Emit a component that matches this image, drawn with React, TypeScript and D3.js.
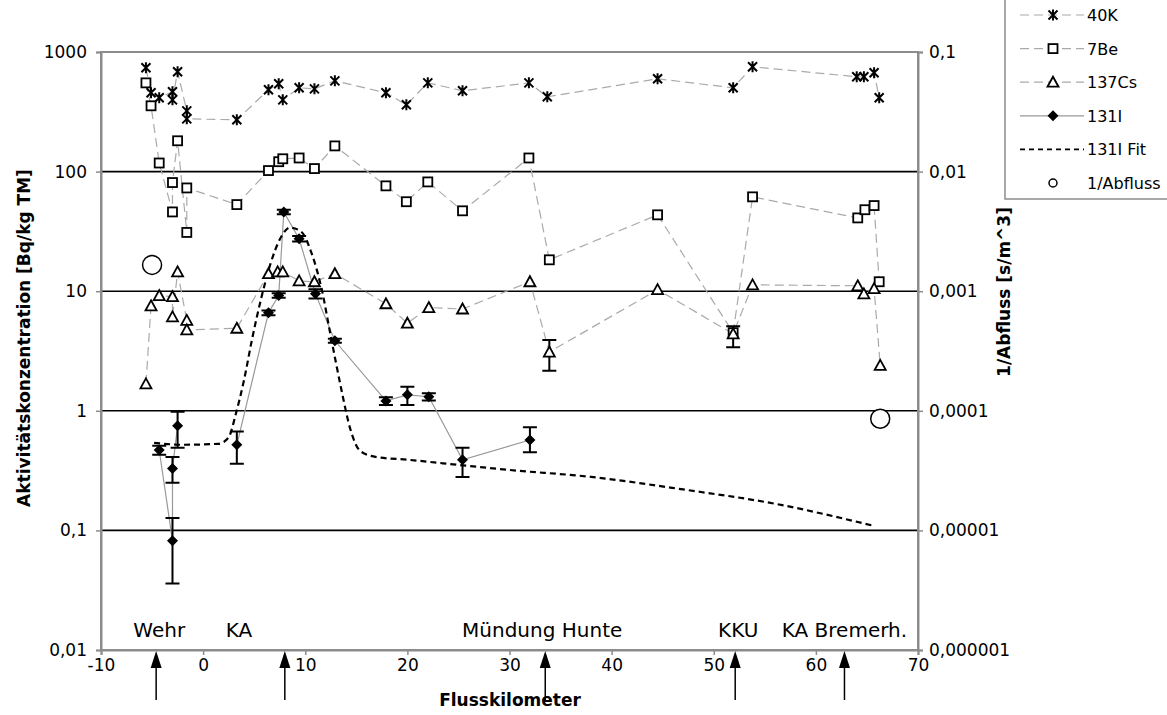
import { useEffect, useRef } from 'react'
import * as d3 from 'd3'

// [km, Bq/kg TM]
const k40: [number, number][] = [
  [-5.6, 738], [-5.1, 456], [-4.3, 414], [-3.0, 465], [-3.0, 398], [-2.5, 683], [-1.6, 322], [-1.6, 276],
  [3.3, 271], [6.4, 483], [7.4, 542], [7.8, 398], [9.4, 502], [10.9, 492], [12.9, 574], [17.9, 456],
  [19.9, 362], [22.0, 552], [25.4, 474], [31.9, 552], [33.7, 422], [44.5, 597], [51.9, 502], [53.8, 752],
  [64.0, 621], [64.7, 621], [65.7, 670], [66.2, 414],
]
const be7: [number, number][] = [
  [-5.6, 552], [-5.1, 355], [-4.3, 118], [-3.0, 46], [-3.0, 81], [-2.5, 181], [-1.6, 31], [-1.6, 73],
  [3.3, 53], [6.4, 102], [7.4, 121], [7.8, 128], [9.4, 130], [10.9, 106], [12.9, 164], [17.9, 76],
  [19.9, 56], [22.0, 82], [25.4, 47], [31.9, 130], [33.9, 18.3], [44.5, 43.5], [51.9, 4.5], [53.8, 61.5],
  [64.1, 41], [64.8, 48], [65.7, 52], [66.2, 12],
]
const cs137: [number, number][] = [
  [-5.6, 1.68], [-5.1, 7.55], [-4.3, 9.2], [-3.0, 9.0], [-3.0, 6.1], [-2.5, 14.5], [-1.6, 5.7], [-1.6, 4.75],
  [3.3, 4.9], [6.4, 14], [7.3, 14.5], [7.8, 14.5], [9.4, 12.2], [10.9, 12], [12.9, 14], [17.9, 7.85],
  [20.0, 5.4], [22.1, 7.3], [25.4, 7.1], [32.0, 12], [33.9, 3.1], [44.5, 10.3], [51.9, 4.4], [53.8, 11.3],
  [64.1, 11.1], [64.7, 9.5], [65.7, 10.5], [66.3, 2.4],
]
// [km, low, high]
const csErr: [number, number, number][] = [[33.9, 2.16, 3.9], [51.9, 3.4, 5.1]]

// [km, value, low, high]; null = no value (gap in line)
const i131: ([number, number, number, number] | null)[] = [
  [-4.3, 0.47, 0.43, 0.51], [-3.0, 0.082, 0.036, 0.127], [-3.0, 0.33, 0.25, 0.41], [-2.5, 0.75, 0.49, 0.98],
  null,
  [3.3, 0.52, 0.36, 0.67], [6.4, 6.6, 6.3, 6.9], [7.4, 9.2, 8.8, 9.6], [7.9, 46, 44, 48], [9.4, 27.4, 26, 29],
  [11.0, 9.5, 8.7, 10.4], [12.9, 3.85, 3.7, 4.0], [17.9, 1.21, 1.12, 1.3], [20.0, 1.36, 1.12, 1.59],
  [22.1, 1.31, 1.22, 1.4], [25.4, 0.39, 0.28, 0.49], [32.0, 0.57, 0.45, 0.73],
]
const i131Fit: [number, number][] = [
  [-4.8, 0.54], [-2, 0.52], [1.5, 0.53], [2.5, 0.6], [3.2, 0.94], [4.0, 1.8], [4.8, 4.0], [5.7, 8.8],
  [6.6, 17], [7.5, 27], [8.5, 34], [9.6, 31.5], [10.6, 21], [11.6, 10.5], [12.5, 4.2], [13.5, 1.56],
  [14.4, 0.71], [15.4, 0.46], [17, 0.41], [20, 0.39], [25.4, 0.35], [30, 0.32], [38, 0.28], [47, 0.22],
  [56, 0.167], [65.5, 0.11],
]
// [km, 1/Abfluss s/m^3]
const abfluss: [number, number][] = [[-5.0, 0.00166], [66.3, 0.000086]]

const places: [string, number, number][] = [
  ['Wehr', -4.3, -4.6], ['KA', 3.5, 8.0], ['Mündung Hunte', 33.2, 33.5], ['KKU', 52.4, 52.1], ['KA Bremerh.', 62.8, 62.8],
]
const xTicks = [-10, 0, 10, 20, 30, 40, 50, 60, 70]
const yTicks = [0.01, 0.1, 1, 10, 100, 1000]
const yRTicks = [0.000001, 0.00001, 0.0001, 0.001, 0.01, 0.1]

const FONT = 'DejaVu Sans, Verdana, sans-serif'

const fmt = (d: number) => (d >= 1 ? String(d) : d.toFixed(Math.round(-Math.log10(d))).replace('.', ','))

function marker(g: any, type: string, cx: number, cy: number) {
  if (type === 'star') {
    const s = 4.5
    g.append('path')
      .attr('d', `M${cx - s},${cy - s}L${cx + s},${cy + s}M${cx - s},${cy + s}L${cx + s},${cy - s}M${cx},${cy - s - 1}L${cx},${cy + s + 1}`)
      .attr('stroke', '#000').attr('stroke-width', 2).attr('fill', 'none')
  } else if (type === 'square') {
    g.append('rect').attr('x', cx - 4.5).attr('y', cy - 4.5).attr('width', 9).attr('height', 9)
      .attr('fill', '#fff').attr('stroke', '#000').attr('stroke-width', 1.8)
  } else if (type === 'triangle') {
    g.append('path').attr('d', `M${cx},${cy - 5.5}L${cx + 5.5},${cy + 4.5}L${cx - 5.5},${cy + 4.5}Z`)
      .attr('fill', '#fff').attr('stroke', '#000').attr('stroke-width', 1.8)
  } else if (type === 'diamond') {
    g.append('path').attr('d', `M${cx},${cy - 5.5}L${cx + 5.5},${cy}L${cx},${cy + 5.5}L${cx - 5.5},${cy}Z`).attr('fill', '#000')
  } else if (type === 'circle') {
    g.append('circle').attr('cx', cx).attr('cy', cy).attr('r', 4).attr('fill', 'none').attr('stroke', '#000').attr('stroke-width', 1.5)
  }
}

export default function App() {
  const svgRef = useRef<SVGSVGElement>(null)
  const width = 1167
  const height = 715
  const left = 101, right = 918, top = 52, bottom = 650

  useEffect(() => {
    const svg = d3.select(svgRef.current)
    svg.selectAll('*').remove()

    const x = d3.scaleLinear().domain([-10, 70]).range([left, right])
    const y = d3.scaleLog().domain([0.01, 1000]).range([bottom, top])
    const yR = d3.scaleLog().domain([0.000001, 0.1]).range([bottom, top])

    svg.append('rect').attr('width', width).attr('height', height).attr('fill', '#fff')

    // gridlines
    svg.append('g').selectAll('line').data([0.1, 1, 10, 100]).join('line')
      .attr('x1', left).attr('x2', right).attr('y1', (d) => y(d)).attr('y2', (d) => y(d))
      .attr('stroke', '#000').attr('stroke-width', 1.6)

    // frame
    svg.append('rect').attr('x', left).attr('y', top).attr('width', right - left).attr('height', bottom - top)
      .attr('fill', 'none').attr('stroke', '#8c8c8c').attr('stroke-width', 2)

    const styleAxis = (ax: any) => {
      ax.select('.domain').attr('stroke', '#8c8c8c').attr('stroke-width', 2)
      ax.selectAll('.tick line').attr('stroke', '#8c8c8c').attr('stroke-width', 1.5)
      ax.selectAll('text').attr('fill', '#000').style('font-size', '17px').style('font-family', FONT)
    }

    svg.append('g').attr('transform', `translate(0,${bottom})`)
      .call(d3.axisBottom(x).tickValues(xTicks).tickSize(5).tickPadding(4).tickFormat((d: any) => String(d)))
      .call(styleAxis)
    svg.append('g').attr('transform', `translate(${left},0)`)
      .call(d3.axisLeft(y).tickValues(yTicks).tickSize(5).tickPadding(9).tickFormat((d: any) => fmt(d)))
      .call(styleAxis)
    svg.append('g').attr('transform', `translate(${right},0)`)
      .call(d3.axisRight(yR).tickValues(yRTicks).tickSize(5).tickPadding(6).tickFormat((d: any) => fmt(d)))
      .call(styleAxis)

    // axis titles
    svg.append('text').attr('x', 510).attr('y', 706).attr('text-anchor', 'middle')
      .style('font-family', FONT).style('font-size', '17px').style('font-weight', 'bold').text('Flusskilometer')
    svg.append('text').attr('transform', `translate(30,338) rotate(-90)`).attr('text-anchor', 'middle')
      .style('font-family', FONT).style('font-size', '17px').style('font-weight', 'bold').text('Aktivitätskonzentration [Bq/kg TM]')
    svg.append('text').attr('transform', `translate(1010,292) rotate(-90)`).attr('text-anchor', 'middle')
      .style('font-family', FONT).style('font-size', '17px').style('font-weight', 'bold').text('1/Abfluss [s/m^3]')

    // place labels and arrows
    places.forEach(([name, lx, ax]) => {
      svg.append('text').attr('x', x(lx)).attr('y', 637).attr('text-anchor', 'middle')
        .style('font-family', FONT).style('font-size', '20px').text(name)
      const px = x(ax)
      svg.append('line').attr('x1', px).attr('x2', px).attr('y1', 664).attr('y2', 700).attr('stroke', '#000').attr('stroke-width', 1.5)
      svg.append('path').attr('d', `M${px},${651}L${px + 5.5},${668}L${px - 5.5},${668}Z`).attr('fill', '#000')
    })

    const line = d3.line<any>().x((d) => x(d[0])).y((d) => y(d[1]))
    const plot = svg.append('g')

    const dashed = (data: [number, number][]) =>
      plot.append('path').datum(data).attr('fill', 'none').attr('stroke', '#aaa').attr('stroke-width', 1.2)
        .attr('stroke-dasharray', '9,5').attr('d', line)
    dashed(k40)
    dashed(be7)
    dashed(cs137)

    plot.append('path').datum(i131).attr('fill', 'none').attr('stroke', '#999').attr('stroke-width', 1.2)
      .attr('d', line.defined((d) => d !== null))

    plot.append('path').datum(i131Fit).attr('fill', 'none').attr('stroke', '#000').attr('stroke-width', 2.2)
      .attr('stroke-dasharray', '6,4').attr('d', d3.line<any>().x((d) => x(d[0])).y((d) => y(d[1])).curve(d3.curveMonotoneX))

    // error bars
    const errBar = (km: number, lo: number, hi: number) => {
      const px = x(km)
      plot.append('path')
        .attr('d', `M${px},${y(lo)}L${px},${y(hi)}M${px - 7},${y(lo)}L${px + 7},${y(lo)}M${px - 7},${y(hi)}L${px + 7},${y(hi)}`)
        .attr('stroke', '#000').attr('stroke-width', 2).attr('fill', 'none')
    }
    csErr.forEach(([km, lo, hi]) => errBar(km, lo, hi))
    i131.forEach((d) => { if (d) errBar(d[0], d[2], d[3]) })

    k40.forEach(([km, v]) => marker(plot, 'star', x(km), y(v)))
    be7.forEach(([km, v]) => marker(plot, 'square', x(km), y(v)))
    cs137.forEach(([km, v]) => marker(plot, 'triangle', x(km), y(v)))
    i131.forEach((d) => { if (d) marker(plot, 'diamond', x(d[0]), y(d[1])) })
    abfluss.forEach(([km, v]) => {
      plot.append('circle').attr('cx', x(km)).attr('cy', yR(v)).attr('r', 9.5)
        .attr('fill', '#fff').attr('stroke', '#000').attr('stroke-width', 1.5)
    })

    // legend
    const lg = svg.append('g')
    lg.append('rect').attr('x', 1005).attr('y', -2).attr('width', 175).attr('height', 201)
      .attr('fill', '#fff').attr('stroke', '#8c8c8c').attr('stroke-width', 1.5)
    const items: [string, string, string, string][] = [
      ['40K', 'star', '#aaa', '9,5'],
      ['7Be', 'square', '#aaa', '9,5'],
      ['137Cs', 'triangle', '#aaa', '9,5'],
      ['131I', 'diamond', '#999', ''],
      ['131I Fit', '', '#000', '5,4'],
      ['1/Abfluss', 'circle', '', ''],
    ]
    items.forEach(([name, m, col, dash], i) => {
      const cy = 15 + i * 33.6
      if (col) {
        lg.append('line').attr('x1', 1020).attr('x2', 1084).attr('y1', cy).attr('y2', cy)
          .attr('stroke', col).attr('stroke-width', col === '#000' ? 1.8 : 1.2).attr('stroke-dasharray', dash || null)
      }
      if (m) marker(lg, m, 1053, cy)
      lg.append('text').attr('x', 1087).attr('y', cy + 6).style('font-family', FONT).style('font-size', '16px').text(name)
    })
  }, [])

  return <svg ref={svgRef} width={width} height={height} style={{ position: 'absolute', left: 0, top: 0 }} />
}
